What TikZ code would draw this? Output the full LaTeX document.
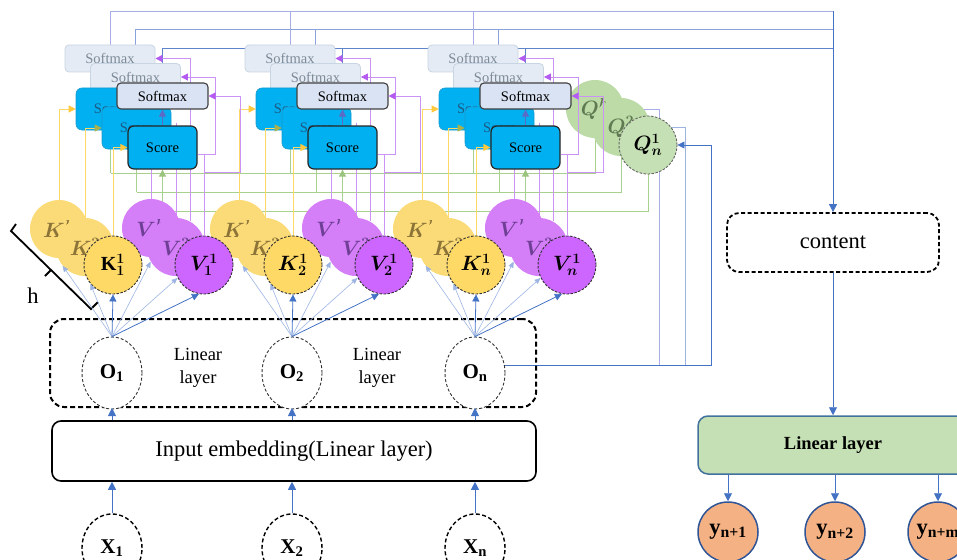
\documentclass[tikz,border=0pt]{standalone}
\usepackage{fontspec}
\setmainfont{Liberation Serif}
\usepackage{amsmath,bm}
\usetikzlibrary{arrows.meta,shapes.geometric}

\definecolor{cK}{HTML}{FFD966}
\definecolor{cKback}{HTML}{FBDB78}
\definecolor{cKtext}{HTML}{8C7438}
\definecolor{cV}{HTML}{CC66FF}
\definecolor{cVback}{HTML}{D47EF8}
\definecolor{cVtext}{HTML}{6E3F94}
\definecolor{cQ}{HTML}{C5E0B4}
\definecolor{cQback}{HTML}{BCDBA6}
\definecolor{cQtext}{HTML}{5F7A52}
\definecolor{cScore}{HTML}{00B0F0}
\definecolor{cScoreEdge}{HTML}{1B9CD0}
\definecolor{cScoreText}{HTML}{1C5A85}
\definecolor{cSoft}{HTML}{DAE3F3}
\definecolor{cSoftBack}{HTML}{E4EBF4}
\definecolor{cSoftBackEdge}{HTML}{C8D5E2}
\definecolor{cSoftBackText}{HTML}{7D8A98}
\definecolor{cBlue}{HTML}{4472C4}
\definecolor{cBlueLight}{HTML}{9DB4E2}
\definecolor{cLav}{HTML}{A7AEE6}
\definecolor{cRailB}{HTML}{8AA2DC}
\definecolor{cRailC}{HTML}{5E84CC}
\definecolor{cGreenWire}{HTML}{A9D18E}
\definecolor{cGreenTip}{HTML}{9BC47E}
\definecolor{cYellowWire}{HTML}{FFD966}
\definecolor{cYellowTip}{HTML}{FFC83D}
\definecolor{cOlive}{HTML}{A9B24E}
\definecolor{cPurpleWire}{HTML}{CB93F5}
\definecolor{cPurpleTip}{HTML}{B45CF2}
\definecolor{cUp}{HTML}{5B6CC6}
\definecolor{cLinFill}{HTML}{C5E0B4}
\definecolor{cLinEdge}{HTML}{41719C}
\definecolor{cOut}{HTML}{F4B183}
\definecolor{cOutEdge}{HTML}{2F5597}

\pgfdeclarelayer{wires}
\pgfdeclarelayer{boxlow}
\pgfdeclarelayer{linklow}
\pgfdeclarelayer{boxmid}
\pgfdeclarelayer{linkmid}
\pgfsetlayers{wires,boxlow,linklow,boxmid,linkmid,main}

\newcommand\szSoft{\fontsize{14.5}{17}\selectfont}
\newcommand\szCirc{\fontsize{20}{22}\selectfont}
\newcommand\szLin{\fontsize{18.5}{23}\selectfont}
\newcommand\szBig{\fontsize{22.5}{26}\selectfont}
\newcommand\szNode{\fontsize{21}{24}\selectfont}

\tikzset{
  softfront/.style={draw=black!75, line width=1.1pt, fill=cSoft, rounded corners=4pt,
    minimum width=91pt, minimum height=26pt, inner sep=0pt, font=\szSoft},
  softback/.style={draw=cSoftBackEdge, line width=0.8pt, fill=cSoftBack, rounded corners=4pt,
    minimum width=90pt, minimum height=27pt, inner sep=0pt, text=cSoftBackText, font=\szSoft},
  scorefront/.style={draw=black!85, line width=1.2pt, fill=cScore, rounded corners=6pt,
    minimum width=69pt, minimum height=43pt, inner sep=0pt, font=\szSoft},
  scoreback/.style={draw=cScoreEdge, line width=0.6pt, fill=cScore, rounded corners=6pt,
    minimum width=69pt, minimum height=42pt, inner sep=0pt, text=cScoreText, font=\szSoft},
  headfront/.style={circle, minimum size=58pt, inner sep=0pt, draw=black!80, line width=0.9pt,
    dash pattern=on 2.5pt off 1.5pt, font=\szCirc},
  headback/.style={circle, minimum size=58pt, inner sep=0pt, font=\szCirc},
  kfront/.style={headfront, fill=cK},
  kback/.style={headback, fill=cKback, text=cKtext},
  vfront/.style={headfront, fill=cV},
  vback/.style={headback, fill=cVback, text=cVtext},
  qfront/.style={headfront, fill=cQ, draw=black!60},
  qback/.style={headback, fill=cQback, text=cQtext},
  onode/.style={ellipse, minimum width=60pt, minimum height=72pt, inner sep=0pt, draw=black!80,
    line width=0.9pt, dash pattern=on 3pt off 2pt, fill=white, font=\szNode},
  xnode/.style={ellipse, minimum width=60pt, minimum height=68pt, inner sep=0pt, draw=black,
    line width=1.4pt, dash pattern=on 4pt off 2.5pt, font=\szNode},
  layerbox/.style={draw=black, line width=2pt, dash pattern=on 5pt off 3pt, rounded corners=14pt,
    minimum width=486pt, minimum height=88pt},
  embbox/.style={draw=black, line width=1.6pt, rounded corners=9pt, minimum width=484pt,
    minimum height=60pt, font=\szBig},
  contentbox/.style={draw=black, line width=1.8pt, dash pattern=on 4pt off 2.5pt, rounded corners=12pt,
    minimum width=212pt, minimum height=59pt, font=\szBig},
  linbox/.style={draw=cLinEdge, fill=cLinFill, line width=1.5pt, rounded corners=10pt,
    minimum width=270pt, minimum height=58pt, font=\szLin},
  outnode/.style={circle, minimum size=60pt, inner sep=0pt, fill=cOut, draw=cOutEdge,
    line width=1.5pt, font=\szBig},
  bluearrow/.style={draw=cBlue, line width=0.9pt, -{Triangle[length=8pt,width=8pt]}},
  fanlite/.style={draw=cBlueLight, line width=0.6pt, -{Triangle[length=6pt,width=5pt]}},
  fandark/.style={draw=cBlue, line width=0.8pt, -{Triangle[length=7pt,width=7pt]}},
  uparrow/.style={draw=cUp, line width=0.9pt, -{Triangle[length=7pt,width=7pt]}},
  ywire/.style={draw=cYellowWire, line width=0.8pt, -{Triangle[length=7pt,width=7pt,color=cYellowTip]}},
  pline/.style={draw=cPurpleWire, line width=0.8pt},
  pwire/.style={pline, -{Triangle[length=7pt,width=7pt,color=cPurpleTip]}},
  gline/.style={draw=cGreenWire, line width=0.8pt},
  garrow/.style={gline, -{Triangle[length=7pt,width=7pt,color=cGreenTip]}},
  wireA/.style={draw=cLav, line width=0.8pt},
  wireB/.style={draw=cRailB, line width=0.8pt},
  wireC/.style={draw=cRailC, line width=0.9pt},
  olav/.style={draw=cLav, line width=0.8pt},
  olight/.style={draw=cBlueLight, line width=0.8pt},
}

\begin{document}
\begin{tikzpicture}[x=1pt,y=-1pt]
\useasboundingbox (0,0) rectangle (957,559);

% rail heights and turning points
\coordinate (railA) at (0,11);
\coordinate (railB) at (0,29);
\coordinate (railC) at (0,48);
\coordinate (railQb) at (0,173);
\coordinate (railQm) at (0,192);
\coordinate (railQf) at (0,211);
\coordinate (cq1) at (659,109);
\coordinate (cq2) at (685,127);
\coordinate (cq3) at (711,145);

% query heads
\node[qback] (Qb) at (595,109) {$\bm{Q^{h}}$};
\node[qback] (Qm) at (621,127) {$\bm{Q^{2}}$};
\node[qfront] (Qf) at (648,145) {$\bm{Q^{1}_{n}}$};

% key / value heads, back to front
\foreach \x/\i in {112/1,292/2,475/3}{
  \node[kback] (Kb\i) at (\x-53,229) {$\bm{K^{h}}$};
  \node[kback] (Km\i) at (\x-27,247) {$\bm{K^{2}}$};
  \node[vback] (Vb\i) at (\x+39,228) {$\bm{V^{h}}$};
}
\foreach \x/\i/\s/\kk in {112/1/1/\mathrm{K},292/2/2/K,475/3/n/K}{
  \node[kfront] (Kf\i) at (\x+1,265) {$\bm{\kk^{1}_{\s}}$};
  \node[vback] (Vm\i) at (\x+64,247) {$\bm{V^{2}}$};
}
\foreach \x/\i/\s in {112/1/1,292/2/2,475/3/n}
  \node[vfront] (Vf\i) at (\x+92,265) {$\bm{V^{1}_{\s}}$};

% score / softmax stacks
\foreach \x/\i in {112/1,292/2,475/3}{
  \begin{pgfonlayer}{boxlow}
    \node[softback] (SMb\i) at (\x-2,58.5) {Softmax};
    \node[softback] (SMm\i) at (\x+23.5,77) {Softmax};
    \node[scoreback] (Sb\i) at (\x-1.5,109) {Score};
  \end{pgfonlayer}
  \begin{pgfonlayer}{boxmid}
    \node[scoreback] (Sm\i) at (\x+24.5,128) {Score};
  \end{pgfonlayer}
  \node[softfront] (SMf\i) at (\x+50.5,96) {Softmax};
  \node[scorefront] (Sf\i) at (\x+50.5,147.5) {Score};
}

% linear layer with the hidden states
\node[layerbox] (obox) at (293,363) {};
\foreach \x/\i/\s in {112/1/1,292/2/2,475/3/n}{
  \node[onode] (O\i) at (\x,373) {\textbf{O}\textsubscript{\textbf{\s}}};
  \node[xnode] (X\i) at (\x,548) {\textbf{X}\textsubscript{\textbf{\s}}};
}
\node[font=\szLin, align=center] (lin1) at (198,368) {Linear\\layer};
\node[font=\szLin, align=center] (lin2) at (377,368) {Linear\\layer};
\node[embbox] (emb) at (294,451) {Input embedding(Linear layer)};

% output side
\node[contentbox] (content) at (833,242.5) {content};
\node[linbox] (lin) at (833,445) {\textbf{Linear layer}};
\foreach \x/\i/\s in {728/1/n+1,835/2/n+2,938/3/n+m}
  \node[outnode] (Y\i) at (\x,532) {\textbf{y}\textsubscript{\textbf{\s}}};

% head-count bracket
\draw[line width=1.8pt] (16,224) -- (11,231) -- (91,309) -- (98,302);
\draw[line width=1.8pt] (51,270) -- (45,276);
\node[font=\szBig] (hlabel) at (33,296) {h};

% inputs and embedding arrows
\foreach \i in {1,2,3}{
  \draw[bluearrow] (X\i.north) -- (X\i.north |- emb.south);
  \draw[bluearrow] (emb.north -| O\i) -- (obox.south -| O\i);
}

% projections into the heads
\foreach \i in {1,2,3}{
  \draw[fanlite] (O\i.north) -- (Km\i.220);
  \draw[fanlite] (O\i.north) -- (Kf\i.220);
  \draw[fandark] (O\i.north) -- (Kf\i.south);
  \draw[fanlite] (O\i.north) -- (Vm\i.210);
  \draw[fanlite] (O\i.north) -- (Vf\i.206);
  \draw[fandark] (O\i.north) -- (Vf\i.260);
}

% output side arrows
\draw[bluearrow] (content.south) -- (lin.north);
\foreach \i in {1,2,3}
  \draw[bluearrow] (lin.south -| Y\i) -- (Y\i.north);

% keys into the score boxes
\foreach \i in {1,2,3}{
  \begin{pgfonlayer}{linklow}
    \draw[ywire, -{Triangle[length=7pt,width=7pt,color=cOlive]}] (Km\i.north) |- (Sm\i.west);
  \end{pgfonlayer}
  \begin{pgfonlayer}{linkmid}
    \draw[ywire] (Kf\i.north) |- (Sf\i.west);
    \draw[uparrow] (Sf\i.north) -- (SMf\i.south);
  \end{pgfonlayer}
}

% values and scores into the softmax boxes
\foreach \i in {1,2,3}{
  \draw[pwire] ([yshift=-7pt]Sf\i.east) -- ++(18,0) |- (SMm\i.east);
  \draw[pwire] (Vf\i.north) -- ++(0,-63) -- ++(36,0) |- (SMf\i.east);
}

\begin{pgfonlayer}{wires}
  % softmax outputs gathered towards the content box
  \draw[wireA] (SMb1.north |- railA) -- (content.north |- railA);
  \draw[wireB] (SMm1.north |- railB) -- (content.north |- railB);
  \draw[wireC] (SMf1.north |- railC) -- (content.north |- railC);
  \foreach \i in {1,2,3}{
    \draw[wireA] (SMb\i.north) -- (SMb\i.north |- railA);
    \draw[wireB] (SMm\i.north) -- (SMm\i.north |- railB);
    \draw[wireC] (SMf\i.north) -- (SMf\i.north |- railC);
  }
  \draw[bluearrow] (content.north |- railA) -- (content.north);

  % queries into the score boxes
  \draw[gline] (Qb.south) |- (Sb1.south |- railQb);
  \draw[gline] (Qm.south) |- (Sm1.south |- railQm);
  \draw[gline] (Qf.south) |- (Sf1.south |- railQf);
  \foreach \i in {1,2,3}{
    \draw[gline] (Sb\i.south |- railQb) -- (Sb\i.south);
    \draw[gline] (Sm\i.south |- railQm) -- (Sm\i.south);
    \draw[garrow] (Sf\i.south |- railQf) -- (Sf\i.south);
  }

  % remaining key / value wires
  \foreach \i in {1,2,3}{
    \draw[ywire] (Kb\i.north) |- (Sb\i.west);
    \draw[pwire] (Vm\i.61) |- (SMb\i.east);
    \draw[pline] (Vb\i.north) -- ++(0,-75);
    \draw[pline] (Vm\i.north) -- ++(0,-95);
    \draw[pline] (Vf\i.north) -- ++(0,-81);
  }

  % last hidden state feeds the query heads
  \draw[olav] (O3.15) -| (cq1) -- (Qb);
  \draw[olight] (O3.15) -| (cq2) -- (Qm);
  \draw[fandark] (O3.15) -| (cq3) -- (Qf);
\end{pgfonlayer}
\end{tikzpicture}
\end{document}
